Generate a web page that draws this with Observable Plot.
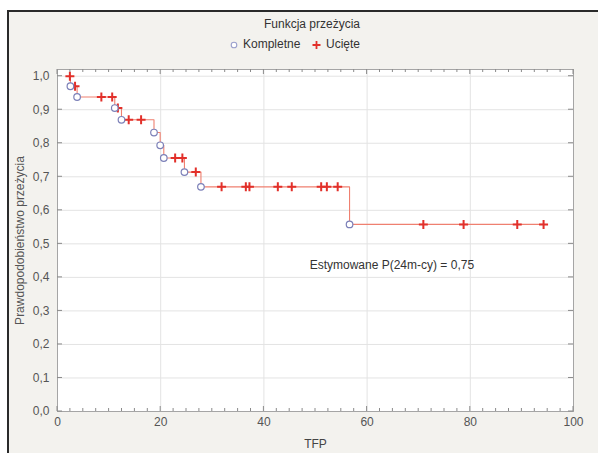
<!DOCTYPE html>
<html><head><meta charset="utf-8">
<script src="https://cdn.jsdelivr.net/npm/d3@7"></script>
<script src="https://cdn.jsdelivr.net/npm/@observablehq/plot@0.6"></script>
<style>
html,body{margin:0;padding:0;background:#fff;}
#wrap{position:relative;width:598px;height:453px;overflow:hidden;font-family:"Liberation Sans",Arial,sans-serif;}
#panel{position:absolute;left:7px;top:10px;width:600px;height:460px;background:#f3f2ee;border-left:2px solid #2a2a2a;border-top:2px solid #2a2a2a;}
#chart{position:absolute;left:0;top:0;}
</style></head><body>
<div id="wrap"><div id="panel"></div><div id="chart"></div></div>
<script>
// Kaplan-Meier: complete (event) observations
const eventTimes = [2.5, 3.8, 11.1, 12.4, 18.7, 19.9, 20.6, 24.6, 27.8, 56.6];
const eventSurv  = [0.970, 0.938, 0.905, 0.870, 0.832, 0.794, 0.756, 0.714, 0.670, 0.558];
// censored observations
const censorTimes = [2.4, 3.4, 8.5, 10.6, 11.7, 13.8, 16.2, 22.8, 24.2, 26.8,
                     31.8, 36.5, 37.2, 42.7, 45.4, 51.1, 52.2, 54.3,
                     70.9, 78.7, 89.1, 94.2];
const censorSurv  = [1.0, 0.970, 0.938, 0.938, 0.905, 0.870, 0.870, 0.756, 0.756, 0.714,
                     0.670, 0.670, 0.670, 0.670, 0.670, 0.670, 0.670, 0.670,
                     0.558, 0.558, 0.558, 0.558];
const xTicks = [0, 20, 40, 60, 80, 100];
const xMinorTicks = d3.range(0, 100.01, 2.5);
const yTicks = [0, 0.1, 0.2, 0.3, 0.4, 0.5, 0.6, 0.7, 0.8, 0.9, 1.0];
const seriesNames = ["Kompletne", "Ucięte"];
const legendTitle = "Funkcja przeżycia";
const xLabel = "TFP";
const yLabel = "Prawdopodobieństwo przeżycia";
const noteText = ["Estymowane P(24m-cy) = 0,75"];
const noteX = [64.8];
const noteY = [0.437];

const events = eventTimes.map((t, i) => ({t, s: eventSurv[i]}));
const censored = censorTimes.map((t, i) => ({t, s: censorSurv[i]}));
const steps = [...events, ...censored].sort((a, b) => a.t - b.t);
const notes = noteText.map((text, i) => ({text, x: noteX[i], y: noteY[i]}));

const fmt = d => d.toFixed(1).replace(".", ",");
const FONT = "Liberation Sans, Arial, sans-serif";

const plot = Plot.plot({
  width: 598, height: 453,
  marginLeft: 57, marginRight: 25, marginTop: 69, marginBottom: 42,
  x: {domain: [0, 100]},
  y: {domain: [0, 1.02]},
  style: {background: "transparent", fontFamily: FONT, fontSize: "12px", color: "#4a4a4a"},
  marks: [
    Plot.frame({fill: "white", stroke: "none"}),
    Plot.gridX(xTicks.slice(1, -1), {stroke: "#e3e3e3", strokeOpacity: 1}),
    Plot.gridY(yTicks.slice(1), {stroke: "#e3e3e3", strokeOpacity: 1}),
    Plot.frame({stroke: "#a5a5a5"}),
    Plot.axisX(xTicks, {tickSize: 0, tickPadding: 6, label: null, fontSize: 12, fill: "#555"}),
    Plot.axisY(yTicks, {tickSize: 0, tickPadding: 8, tickFormat: fmt, label: null, fontSize: 12, fill: "#555"}),
    Plot.text([xLabel], {frameAnchor: "bottom", dy: 36, text: d => d, fontSize: 12, fill: "#444"}),
    Plot.text([yLabel], {frameAnchor: "left", textAnchor: "middle", dx: -37, rotate: -90, text: d => d, fontSize: 12, fill: "#555"}),
    Plot.text(notes, {x: "x", y: "y", text: "text", fontSize: 12, fill: "#333"}),
    Plot.line(steps, {x: "t", y: "s", curve: "step-after", stroke: "#ef8070", strokeWidth: 1.1}),
    Plot.dot(censored, {x: "t", y: "s", symbol: "plus", r: 3, stroke: "#e2302a", strokeWidth: 2}),
    Plot.dot(events, {x: "t", y: "s", r: 3.3, stroke: "#7c80b8", fill: "white", strokeWidth: 1.2})
  ]
});

// inward tick marks on all four sides, positioned with the plot's own scales
const sx = plot.scale("x"), sy = plot.scale("y");
const svg = d3.select(plot);
const X = v => sx.apply(v), Y = v => sy.apply(v);
const y0 = Y(0), yTop = Y(1.02), x0 = X(0), xR = X(100);
const tg = svg.append("g").attr("stroke", "#8a8a8a").attr("stroke-width", 1);
xMinorTicks.forEach(v => {
  const len = xTicks.includes(v) ? 5 : 3;
  tg.append("line").attr("x1", X(v)).attr("x2", X(v)).attr("y1", y0).attr("y2", y0 - len);
  tg.append("line").attr("x1", X(v)).attr("x2", X(v)).attr("y1", yTop).attr("y2", yTop + len);
});
yTicks.forEach(v => {
  tg.append("line").attr("x1", x0).attr("x2", x0 + 5).attr("y1", Y(v)).attr("y2", Y(v));
  tg.append("line").attr("x1", xR).attr("x2", xR - 5).attr("y1", Y(v)).attr("y2", Y(v));
});

// legend
const lg = svg.append("g").attr("font-family", FONT).attr("font-size", 12).attr("fill", "#333");
lg.append("text").attr("x", 312).attr("y", 25).attr("text-anchor", "middle").attr("dominant-baseline", "middle").text(legendTitle);
lg.append("circle").attr("cx", 234).attr("cy", 45).attr("r", 2.8).attr("fill", "white").attr("stroke", "#9a9fcc").attr("stroke-width", 1.1);
lg.append("text").attr("x", 243).attr("y", 45).attr("text-anchor", "start").attr("dominant-baseline", "middle").text(seriesNames[0]);
lg.append("path").attr("d", "M312.5,45H320.5M316.5,41V49").attr("stroke", "#e2302a").attr("stroke-width", 1.8);
lg.append("text").attr("x", 326).attr("y", 45).attr("text-anchor", "start").attr("dominant-baseline", "middle").text(seriesNames[1]);

document.getElementById("chart").appendChild(plot);
</script>
</body></html>
